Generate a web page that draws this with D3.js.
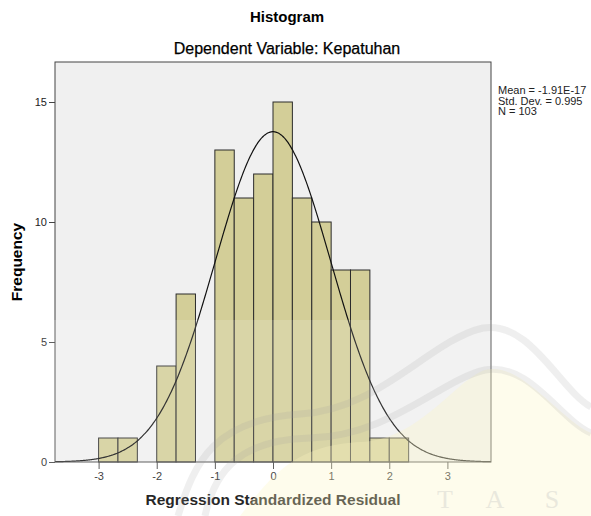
<!DOCTYPE html>
<html>
<head>
<meta charset="utf-8">
<script src="https://cdn.jsdelivr.net/npm/d3@7"></script>
<style>
  body { margin: 0; background: #fff; }
  svg { display: block; font-family: "Liberation Sans", Arial, sans-serif; }
</style>
</head>
<body>
<svg id="chart" width="591" height="516"></svg>
<script>
// histogram bins (lower edges), width 1/3
const binLower = [-3.000, -2.667, -2.333, -2.000, -1.667, -1.333, -1.000, -0.667,
                  -0.333, 0.000, 0.333, 0.667, 1.000, 1.333, 1.667, 2.000];
const counts = [1, 1, 0, 4, 7, 0, 13, 11, 12, 15, 11, 10, 8, 8, 1, 1];
const binWidth = 0.3333;
const xTicks = [-3, -2, -1, 0, 1, 2, 3];
const yTicks = [0, 5, 10, 15];
const statLines = ["Mean = -1.91E-17", "Std. Dev. = 0.995", "N = 103"];
const mean = -1.91e-17, sd = 0.995, n = 103;

const svg = d3.select("#chart");
const margin = { top: 62, right: 100, bottom: 54, left: 55 };
const W = 591, H = 516;
const plotW = W - margin.left - margin.right; // 436
const plotH = H - margin.top - margin.bottom; // 400

const x = d3.scaleLinear().domain([-3.75, 3.75]).range([0, plotW]);
const y = d3.scaleLinear().domain([0, 400 / 24]).range([plotH, 0]);

const g = svg.append("g").attr("transform", `translate(${margin.left},${margin.top})`);

// plot background
g.append("rect")
  .attr("width", plotW).attr("height", plotH)
  .attr("fill", "#f0f0f0");

// bars
g.selectAll("rect.bar")
  .data(binLower.map((b, i) => ({ x0: b, c: counts[i] })).filter(d => d.c > 0))
  .enter()
  .append("rect")
  .attr("class", "bar")
  .attr("x", d => x(d.x0))
  .attr("y", d => y(d.c))
  .attr("width", d => x(d.x0 + binWidth) - x(d.x0))
  .attr("height", d => y(0) - y(d.c))
  .attr("fill", "#d3ce98")
  .attr("stroke", "#2b2b2b")
  .attr("stroke-width", 1);

// normal curve
const pts = d3.range(-3.75, 3.7501, 0.02);
const dens = v => n * binWidth * Math.exp(-0.5 * ((v - mean) / sd) ** 2) / (sd * Math.sqrt(2 * Math.PI));
g.append("path")
  .datum(pts)
  .attr("fill", "none")
  .attr("stroke", "#111")
  .attr("stroke-width", 1.2)
  .attr("d", d3.line().x(d => x(d)).y(d => y(dens(d))).curve(d3.curveBasis));

// axes
const xAxis = g.append("g")
  .attr("transform", `translate(0,${plotH})`)
  .call(d3.axisBottom(x).tickValues(xTicks).tickSize(7).tickPadding(3).tickFormat(d3.format("d")));
const yAxis = g.append("g")
  .call(d3.axisLeft(y).tickValues(yTicks).tickSize(6).tickPadding(2));
[xAxis, yAxis].forEach(a => {
  a.select(".domain").remove();
  a.selectAll("line").attr("stroke", "#444");
  a.selectAll("text").attr("fill", "#222").style("font-size", "11px")
    .style("font-family", "'Liberation Sans', Arial, sans-serif");
});
xAxis.selectAll("text").text(d => d < 0 ? "-" + Math.abs(d) : d);

// frame
g.append("rect")
  .attr("width", plotW).attr("height", plotH)
  .attr("fill", "none").attr("stroke", "#444").attr("stroke-width", 1);

// titles
svg.append("text").attr("x", 287).attr("y", 22).attr("text-anchor", "middle")
  .style("font-size", "15px").style("font-weight", "bold").text("Histogram");
svg.append("text").attr("x", 287).attr("y", 54).attr("text-anchor", "middle")
  .style("font-size", "16px").attr("stroke", "#000").attr("stroke-width", 0.25)
  .text("Dependent Variable: Kepatuhan");
svg.append("text").attr("x", 273).attr("y", 505).attr("text-anchor", "middle")
  .style("font-size", "15.5px").style("font-weight", "bold").text("Regression Standardized Residual");
svg.append("text").attr("transform", "translate(22,262) rotate(-90)").attr("text-anchor", "middle")
  .style("font-size", "15.5px").style("font-weight", "bold").text("Frequency");

// statistics box
svg.append("g").selectAll("text")
  .data(statLines).enter().append("text")
  .attr("x", 498).attr("y", (d, i) => 94 + i * 10.5)
  .style("font-size", "11px").attr("fill", "#222")
  .text(d => d);

// faint watermark
const wm = svg.append("g").attr("pointer-events", "none");
wm.append("rect").attr("x", 0).attr("y", 320).attr("width", W).attr("height", H - 320)
  .attr("fill", "#fff").attr("opacity", 0.15);
wm.append("path")
  .attr("d", "M240,516 C275,470 300,445 360,442 C420,440 455,380 485,370 C520,360 560,420 591,433 L591,516 Z")
  .attr("fill", "#fcf5c0").attr("opacity", 0.3);
wm.append("path")
  .attr("d", "M178,516 C195,460 215,420 300,414 C380,410 430,340 483,328 C530,320 560,390 591,407")
  .attr("fill", "none").attr("stroke", "#999").attr("stroke-width", 7).attr("opacity", 0.16);
wm.append("path")
  .attr("d", "M205,516 C215,470 240,440 310,438 C390,436 440,380 485,370 C530,362 560,420 591,433")
  .attr("fill", "none").attr("stroke", "#999").attr("stroke-width", 7).attr("opacity", 0.16);
wm.selectAll("text.wm").data([["T", 445], ["A", 495], ["S", 552]]).enter()
  .append("text").attr("class", "wm")
  .attr("x", d => d[1]).attr("y", 508).attr("text-anchor", "middle")
  .style("font-family", "'Liberation Serif', serif").style("font-size", "26px")
  .attr("fill", "#bbb").attr("opacity", 0.3).text(d => d[0]);
</script>
</body>
</html>
